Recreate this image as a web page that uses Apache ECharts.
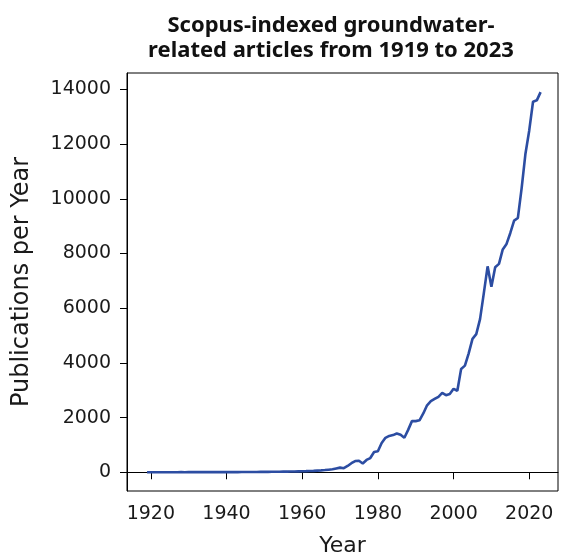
<!DOCTYPE html>
<html>
<head>
<meta charset="utf-8">
<script src="https://cdn.jsdelivr.net/npm/echarts@6/dist/echarts.min.js"></script>
<style>
  html, body { margin: 0; padding: 0; background: #fff; }
  #chart { width: 562px; height: 556px; }
</style>
</head>
<body>
<div id="chart"></div>
<script>
// Yearly count of Scopus-indexed groundwater-related publications
const firstYear = 1919;
const publications = [
  1, 2, 1, 2, 2, 3, 2, 3, 3, 4,
  3, 4, 4, 5, 4, 5, 6, 5, 6, 7,
  6, 7, 5, 6, 6, 8, 9, 10, 11, 12,
  13, 14, 15, 17, 18, 20, 22, 24, 26, 30,
  33, 36, 40, 45, 52, 60, 68, 80, 95, 110,
  140, 170, 150, 230, 330, 410, 420, 320, 450, 520,
  740, 770, 1070, 1260, 1330, 1360, 1420, 1370, 1260, 1550,
  1870, 1870, 1900, 2150, 2450, 2600, 2680, 2760, 2900, 2820,
  2860, 3050, 2980, 3780, 3900, 4350, 4880, 5050, 5600, 6550,
  7530, 6780, 7500, 7620, 8150, 8350, 8750, 9200, 9300, 10400,
  11650, 12500, 13550, 13600, 13900
];
const years = publications.map((_, i) => firstYear + i);

const xTicks = [1920, 1940, 1960, 1980, 2000, 2020];
const yTicks = [0, 2000, 4000, 6000, 8000, 10000, 12000, 14000];

const titleText = 'Scopus-indexed groundwater-\nrelated articles from 1919 to 2023';
const xName = 'Year';
const yName = 'Publications per Year';

const textColor = '#1a1a1a';
const tickFont = 'DejaVu Sans';
const plain = v => String(v);

const chart = echarts.init(document.getElementById('chart'), null, { renderer: 'canvas' });

chart.setOption({
  backgroundColor: '#ffffff',
  animation: false,
  title: {
    text: titleText,
    left: 326,
    top: 8,
    textAlign: 'center',
    textStyle: {
      fontFamily: 'Noto Sans',
      fontWeight: 'bold',
      fontSize: 22,
      lineHeight: 25,
      color: '#111'
    }
  },
  grid: {
    left: 127,
    right: 4,
    top: 73,
    bottom: 65,
    show: true,
    borderColor: '#000',
    borderWidth: 1,
    containLabel: false,
    outerBoundsMode: 'none'
  },
  xAxis: {
    type: 'value',
    min: 1913.7,
    max: 2027.6,
    name: xName,
    nameLocation: 'middle',
    nameGap: 44,
    nameTextStyle: { fontFamily: tickFont, fontSize: 22, color: textColor },
    axisLine: { show: true, lineStyle: { color: '#000', width: 1 } },
    axisTick: {
      show: true, length: 7, inside: false,
      customValues: xTicks,
      lineStyle: { color: '#000', width: 1 }
    },
    axisLabel: {
      customValues: xTicks,
      formatter: plain,
      margin: 14,
      fontFamily: tickFont,
      fontSize: 19,
      color: textColor
    },
    splitLine: { show: false }
  },
  yAxis: {
    type: 'value',
    min: -685,
    max: 14600,
    name: yName,
    nameLocation: 'middle',
    nameGap: 93,
    nameRotate: 90,
    nameTextStyle: { fontFamily: tickFont, fontSize: 24, color: textColor },
    axisLine: { show: true, lineStyle: { color: '#000', width: 1 } },
    axisTick: {
      show: true, length: 7, inside: false,
      customValues: yTicks,
      lineStyle: { color: '#000', width: 1 }
    },
    axisLabel: {
      customValues: yTicks,
      formatter: plain,
      margin: 16,
      fontFamily: tickFont,
      fontSize: 19,
      color: textColor
    },
    splitLine: { show: false }
  },
  series: [{
    type: 'line',
    data: years.map((y, i) => [y, publications[i]]),
    showSymbol: false,
    symbol: 'none',
    lineStyle: { color: '#2c4da2', width: 2.6 },
    clip: true
  }]
});
</script>
</body>
</html>
